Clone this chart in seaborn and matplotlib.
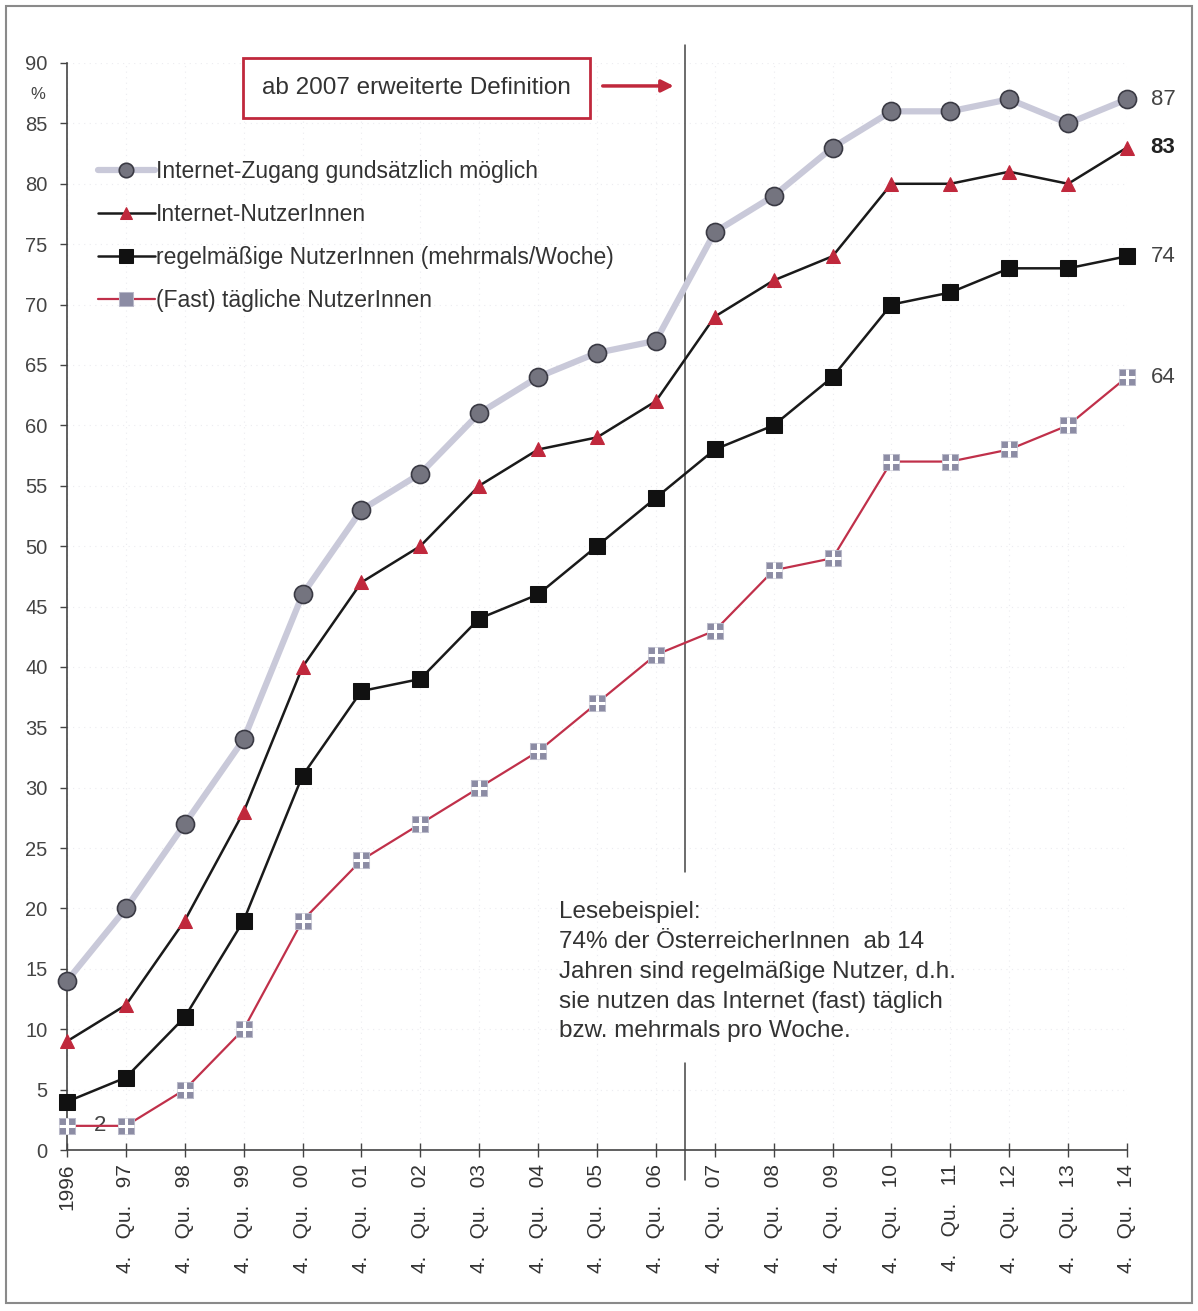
import numpy as np
import pandas as pd
import matplotlib
matplotlib.use("Agg")
import matplotlib.pyplot as plt
from matplotlib.patches import Rectangle
import seaborn as sns

categories = ["1996", "4. Qu. 97", "4. Qu. 98", "4. Qu. 99", "4. Qu. 00", "4. Qu. 01",
              "4. Qu. 02", "4. Qu. 03", "4. Qu. 04", "4. Qu. 05", "4. Qu. 06", "4. Qu. 07",
              "4. Qu. 08", "4. Qu. 09", "4. Qu. 10", "4. Qu. 11", "4. Qu. 12", "4. Qu. 13",
              "4. Qu. 14"]
zugang = [14, 20, 27, 34, 46, 53, 56, 61, 64, 66, 67, 76, 79, 83, 86, 86, 87, 85, 87]
nutzer = [9, 12, 19, 28, 40, 47, 50, 55, 58, 59, 62, 69, 72, 74, 80, 80, 81, 80, 83]
regel = [4, 6, 11, 19, 31, 38, 39, 44, 46, 50, 54, 58, 60, 64, 70, 71, 73, 73, 74]
taeglich = [2, 2, 5, 10, 19, 24, 27, 30, 33, 37, 41, 43, 48, 49, 57, 57, 58, 60, 64]
series_names = ["Internet-Zugang gundsätzlich möglich", "Internet-NutzerInnen",
                "regelmäßige NutzerInnen (mehrmals/Woche)", "(Fast) tägliche NutzerInnen"]
yticks = list(range(0, 95, 5))

sns.set_theme(style="white")
plt.rcParams['font.family'] = ['Liberation Sans', 'DejaVu Sans']

fig = plt.figure(figsize=(11.98, 13.11), dpi=100)
ax = fig.add_axes([67/1198, 1 - 1150/1311, (1127-67)/1198, (1150-63)/1311])

x = np.arange(len(categories))
df = pd.DataFrame({"x": x, "zugang": zugang, "nutzer": nutzer, "regel": regel, "taeglich": taeglich})

red = "#c0283c"
sns.lineplot(data=df, x="x", y="zugang", ax=ax, color="#c9c9d9", linewidth=4.5,
             marker="o", markersize=13, markerfacecolor="#74747f", markeredgecolor="#3a3a44",
             markeredgewidth=1.2, label=series_names[0], zorder=3, clip_on=False)
sns.lineplot(data=df, x="x", y="nutzer", ax=ax, color="#1a1a1a", linewidth=1.8,
             marker="^", markersize=10, markerfacecolor=red, markeredgecolor=red,
             label=series_names[1], zorder=4, clip_on=False)
sns.lineplot(data=df, x="x", y="regel", ax=ax, color="#1a1a1a", linewidth=1.8,
             marker="s", markersize=12, markerfacecolor="#111111", markeredgecolor="#111111",
             label=series_names[2], zorder=4, clip_on=False)
sns.lineplot(data=df, x="x", y="taeglich", ax=ax, color="#c0304a", linewidth=1.6,
             marker="s", markersize=12, markerfacecolor="#8c8ca4", markeredgecolor="#b8b8c8",
             label=series_names[3], zorder=4, clip_on=False)
ax.plot(x, taeglich, linestyle="none", marker="+", markersize=12, markeredgewidth=2.2,
        color="white", zorder=5, clip_on=False)

ax.set_xlim(0, len(categories) - 1)
ax.set_ylim(0, 90)
ax.set_xticks(x)
ax.set_xticklabels([c.replace(" ", "   ") for c in categories], rotation=90,
                   fontsize=15, color="#333333")
ax.set_yticks(yticks)
ax.set_yticklabels([str(v) for v in yticks], fontsize=14.5, color="#444444")
ax.set_xlabel("")
ax.set_ylabel("")
for s in ["top", "right"]:
    ax.spines[s].set_visible(False)
for s in ["left", "bottom"]:
    ax.spines[s].set_color("#444444")
    ax.spines[s].set_linewidth(1.2)
ax.tick_params(axis="x", direction="inout", length=10, width=1, color="#444444", pad=5, bottom=True)
ax.tick_params(axis="y", direction="out", length=5, width=1, color="#444444", pad=9, left=True)
ax.grid(True, color="#ececf0", linestyle=(0, (1, 4)), linewidth=0.8)
ax.set_axisbelow(True)

# percent sign under 90
ax.text(-0.5, 87.4, "%", ha="center", va="center", fontsize=12, color="#444444")

# vertical separator line (broken around the reading example)
ax.plot([10.5, 10.5], [91.5, 23.0], color="#444444", linewidth=1.1, clip_on=False, zorder=2)
ax.plot([10.5, 10.5], [7.2, -2.5], color="#444444", linewidth=1.1, clip_on=False, zorder=2)

# box annotation
ax.annotate("", xy=(10.35, 88.1), xytext=(9.05, 88.1),
            arrowprops=dict(arrowstyle="-|>", color=red, lw=2.5, mutation_scale=18))
ax.text(5.94, 87.9, "ab 2007 erweiterte Definition", ha="center", va="center", fontsize=17.5,
        color="#333333",
        bbox=dict(boxstyle="square,pad=0.78", facecolor="white", edgecolor=red, linewidth=2))

# end labels
ax.text(18.4, zugang[-1], str(zugang[-1]), va="center", ha="left", fontsize=16, color="#444444")
ax.text(18.4, nutzer[-1], str(nutzer[-1]), va="center", ha="left", fontsize=16,
        color="#222222", fontweight="bold")
ax.text(18.4, regel[-1], str(regel[-1]), va="center", ha="left", fontsize=16, color="#444444")
ax.text(18.4, taeglich[-1], str(taeglich[-1]), va="center", ha="left", fontsize=16, color="#444444")
ax.text(0.45, taeglich[0], str(taeglich[0]), va="center", ha="left", fontsize=16, color="#444444")

# reading example
ax.text(8.35, 20.6,
        "Lesebeispiel:\n74% der ÖsterreicherInnen  ab 14\nJahren sind regelmäßige Nutzer, d.h.\n"
        "sie nutzen das Internet (fast) täglich\nbzw. mehrmals pro Woche.",
        ha="left", va="top", fontsize=17.5, color="#333333", linespacing=1.46)

leg = ax.legend(loc="upper left", bbox_to_anchor=(77/1198, 1 - 139/1311),
                bbox_transform=fig.transFigure, frameon=False, fontsize=16.5,
                handlelength=2.5, handletextpad=0.05, labelspacing=0.88,
                labelcolor="#333333", markerscale=0.8)

# figure frame
fig.patches.append(Rectangle((6/1198, 8/1311), 1 - 12/1198, 1 - 14/1311,
                             transform=fig.transFigure, fill=False,
                             edgecolor="#8a8a8a", linewidth=1.5))

fig.savefig("out.png", dpi=100)
